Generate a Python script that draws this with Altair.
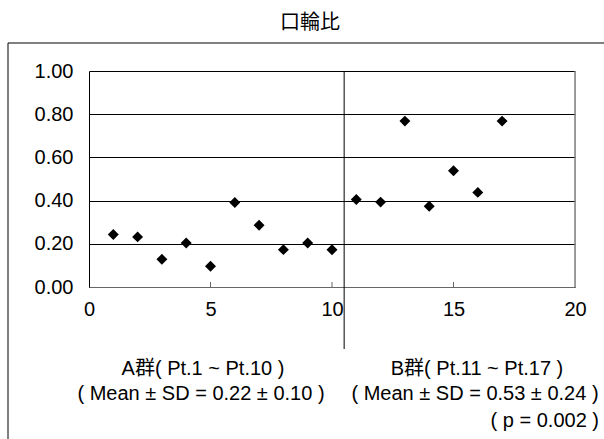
import altair as alt
import pandas as pd

# ---- data ----
patients = list(range(1, 18))
ratios = [0.243, 0.232, 0.128, 0.204, 0.096, 0.391, 0.286, 0.173, 0.204, 0.172,
          0.405, 0.393, 0.768, 0.374, 0.538, 0.438, 0.768]
x_ticks = [0, 5, 10, 15, 20]
y_ticks = [0.0, 0.2, 0.4, 0.6, 0.8, 1.0]
inner_ticks = [5, 10, 15]
divider_x = [10.5]
title_text = "口輪比"
group_a = ["A群( Pt.1 ~ Pt.10 )", "( Mean ± SD = 0.22 ± 0.10 )"]
group_b = ["B群( Pt.11 ~ Pt.17 )", "( Mean ± SD = 0.53 ± 0.24 )"]
p_text = "( p = 0.002 )"

df = pd.DataFrame({"pt": patients, "ratio": ratios})

W, H = 486, 216
FONT = "Liberation Sans, Arial, Noto Sans CJK JP"
FS = 20

xs = alt.Scale(domain=[0, 20], nice=False, zero=False)
ys = alt.Scale(domain=[0, 1], nice=False)

base = alt.Chart(df)

points = base.mark_point(shape="diamond", filled=True, color="black", size=120, opacity=1).encode(
    x=alt.X("pt:Q", scale=xs, title=None,
            axis=alt.Axis(values=x_ticks, ticks=False, grid=False, domainColor="#666666",
                          labelFontSize=FS, labelFont=FONT, labelColor="black",
                          labelPadding=12, labelFlush=False)),
    y=alt.Y("ratio:Q", scale=ys, title=None,
            axis=alt.Axis(values=y_ticks, format=".2f", ticks=False, grid=True,
                          gridColor="black", gridWidth=1, domainColor="black",
                          labelFontSize=FS, labelFont=FONT, labelColor="black",
                          labelPadding=16)),
)

ticks = alt.Chart(pd.DataFrame({"t": inner_ticks})).mark_rule(color="#666666").encode(
    x=alt.X("t:Q", scale=xs), y=alt.value(H - 5), y2=alt.value(H))

divider = alt.Chart(pd.DataFrame({"d": divider_x})).mark_rule(color="black", strokeWidth=1).encode(
    x=alt.X("d:Q", scale=xs), y=alt.value(0), y2=alt.value(278))

right_edge = alt.Chart(pd.DataFrame({"r": [20]})).mark_rule(color="#808080", strokeWidth=1.5).encode(
    x=alt.X("r:Q", scale=xs), y=alt.value(0), y2=alt.value(H))

frame_top = alt.Chart(pd.DataFrame({"a": [0]})).mark_rule(color="#808080", strokeWidth=2).encode(
    x=alt.value(-81), x2=alt.value(530), y=alt.value(-28))
frame_left = alt.Chart(pd.DataFrame({"a": [0]})).mark_rule(color="black", strokeWidth=1).encode(
    x=alt.value(-81), y=alt.value(-28), y2=alt.value(380))

title = alt.Chart(pd.DataFrame({"t": [title_text]})).mark_text(
    font="Noto Sans CJK JP", fontSize=20, color="black", align="center", baseline="middle"
).encode(text="t:N", x=alt.value(221), y=alt.value(-48))

def label(txt, x, y, align="center"):
    return alt.Chart(pd.DataFrame({"t": [txt]})).mark_text(
        font=FONT, fontSize=FS, color="black", align=align, baseline="middle"
    ).encode(text="t:N", x=alt.value(x), y=alt.value(y))

labels = [
    label(group_a[0], 114, 298),
    label(group_a[1], 112, 323),
    label(group_b[0], 388, 298),
    label(group_b[1], 386, 323),
    label(p_text, 510, 350, align="right"),
]

chart = alt.layer(right_edge, divider, ticks, points, frame_top, frame_left, title, *labels).properties(
    width=W, height=H,
    autosize=alt.AutoSizeParams(type="none"),
    padding={"left": 89, "top": 71, "right": 29, "bottom": 152},
).configure_view(stroke=None).configure(background="white")

chart.save("out.html", embed_options={"renderer": "svg", "actions": False})
